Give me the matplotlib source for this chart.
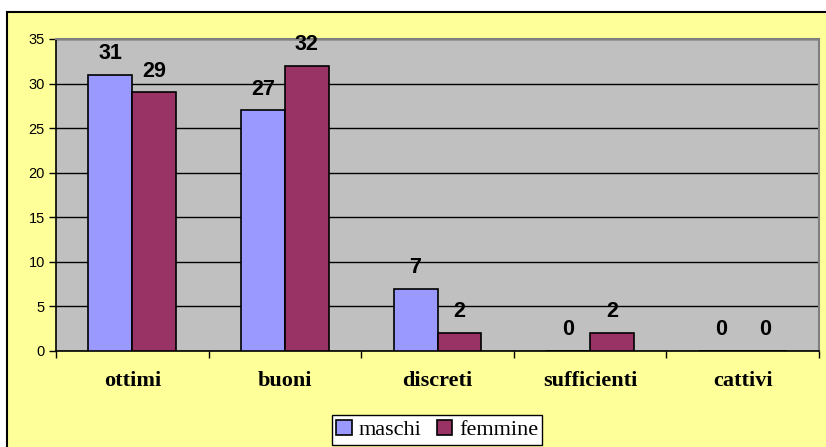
import numpy as np
import matplotlib
matplotlib.use("Agg")
import matplotlib.pyplot as plt
from matplotlib.patches import Rectangle

categories = ["ottimi", "buoni", "discreti", "sufficienti", "cattivi"]
maschi = [31, 27, 7, 0, 0]
femmine = [29, 32, 2, 2, 0]

W, H = 826, 447
fig = plt.figure(figsize=(W / 100, H / 100), dpi=100)
fig.patch.set_facecolor("white")

# outer chart frame (yellow), clipped on right/bottom like the original
frame = Rectangle((7 / W, -0.05), 1.0, (H - 12) / H + 0.05, transform=fig.transFigure,
                  facecolor="#FFFF99", edgecolor="black", lw=1.5, zorder=-10)
fig.patches.append(frame)

ax = fig.add_axes([56 / W, (H - 351) / H, (819 - 56) / W, (351 - 39) / H])
ax.set_facecolor("#C0C0C0")

x = np.arange(len(categories))
bw = 0.288
ax.bar(x - bw / 2, maschi, bw, color="#9999FF", edgecolor="black", lw=1.2,
       label="maschi", zorder=3)
ax.bar(x + bw / 2, femmine, bw, color="#993366", edgecolor="black", lw=1.2,
       label="femmine", zorder=3)

lab = dict(ha="center", va="bottom", fontsize=15.5, fontweight="bold",
           family="Liberation Sans")
for i in range(len(categories)):
    ax.text(x[i] - bw / 2, maschi[i] + 1.2, str(maschi[i]), **lab)
    ax.text(x[i] + bw / 2, femmine[i] + 1.2, str(femmine[i]), **lab)

ax.set_xlim(-0.5, len(categories) - 0.5)
ax.set_ylim(0, 35)
ax.set_yticks(range(0, 36, 5))
ax.yaxis.grid(True, color="black", lw=1)
ax.set_axisbelow(True)
ax.tick_params(axis="y", labelsize=10.5, length=5, width=1, direction="out", pad=3)
for t in ax.get_yticklabels():
    t.set_family("Liberation Sans")

ax.set_xticks(np.arange(len(categories) + 1) - 0.5)
ax.set_xticklabels([])
ax.tick_params(axis="x", length=5, width=1, direction="out")
for i, c in enumerate(categories):
    ax.text(x[i], -3.4, c, ha="center", va="center", fontsize=16,
            fontweight="bold", family="Liberation Serif")

for s in ["top", "right"]:
    ax.spines[s].set_color("#808080")
    ax.spines[s].set_linewidth(1.5)
for s in ["left", "bottom"]:
    ax.spines[s].set_color("black")
    ax.spines[s].set_linewidth(1.2)

leg = ax.legend(loc="center", bbox_to_anchor=(437 / W, (H - 430) / H),
                bbox_transform=fig.transFigure, ncol=2, frameon=True,
                fancybox=False, edgecolor="black", framealpha=1,
                prop={"family": "Liberation Serif", "size": 16},
                handlelength=0.7, handleheight=0.7, handletextpad=0.3,
                columnspacing=0.7, borderpad=0.2, borderaxespad=0)
leg.get_frame().set_linewidth(1)

fig.savefig("out.png", dpi=100)
